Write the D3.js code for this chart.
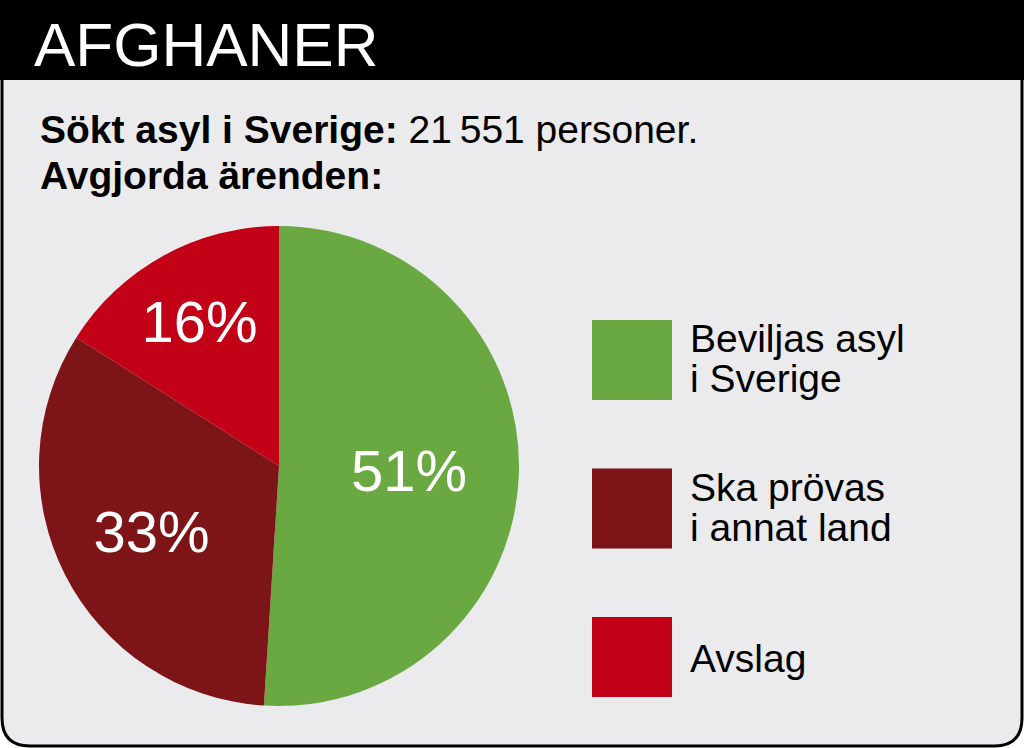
<!DOCTYPE html>
<html><head><meta charset="utf-8">
<script src="https://cdn.jsdelivr.net/npm/d3@7"></script>
<style>body{margin:0;background:#fff}svg{display:block}text{font-family:"Liberation Sans",Arial,sans-serif}</style>
</head><body>
<script>
// data
var categories = ["Beviljas asyl\ni Sverige", "Ska prövas\ni annat land", "Avslag"];
var values = [51, 33, 16];
var colors = ["#6aa842", "#7d1418", "#c20016"];

var W = 1024, H = 748;
var svg = d3.select("body").append("svg").attr("width", W).attr("height", H);

// panel with rounded bottom
svg.append("path")
  .attr("d", "M2,2 H1022 V718 Q1022,746 994,746 H30 Q2,746 2,718 Z")
  .attr("fill", "#ebebed").attr("stroke", "#000").attr("stroke-width", 3);
svg.append("rect").attr("x", 0).attr("y", 0).attr("width", W).attr("height", 80).attr("fill", "#000");
svg.append("text").attr("x", 34).attr("y", 66).attr("fill", "#fff")
  .attr("font-size", 62).text("AFGHANER");

var sub = svg.append("text").attr("x", 40).attr("y", 143).attr("font-size", 39).attr("fill", "#000");
sub.append("tspan").attr("font-weight", "bold").text("Sökt asyl i Sverige: ");
sub.append("tspan").text("21\u2009551 personer.");
svg.append("text").attr("x", 40).attr("y", 189).attr("font-size", 39).attr("font-weight", "bold").text("Avgjorda ärenden:");

// pie
var cx = 279, cy = 466, r = 240;
var pie = d3.pie().sort(null).value(function(d) { return d; });
var arcs = pie(values);
var arc = d3.arc().innerRadius(0).outerRadius(r);
var g = svg.append("g").attr("transform", "translate(" + cx + "," + cy + ")");
g.selectAll("path").data(arcs).enter().append("path")
  .attr("d", arc).attr("fill", function(d, i) { return colors[i]; });
var labelR = [130, 143, 165];
g.selectAll("text.lab").data(arcs).enter().append("text")
  .attr("class", "lab")
  .attr("transform", function(d, i) {
    var a = (d.startAngle + d.endAngle) / 2;
    return "translate(" + (Math.sin(a) * labelR[i]) + "," + (-Math.cos(a) * labelR[i]) + ")";
  })
  .attr("text-anchor", "middle").attr("dy", "0.36em")
  .attr("fill", "#fff").attr("font-size", 58)
  .text(function(d) { return d.data + "%"; });

// legend
var legY = d3.scalePoint().domain(d3.range(categories.length)).range([320, 617]);
var leg = svg.selectAll("g.leg").data(categories).enter().append("g")
  .attr("transform", function(d, i) { return "translate(592," + legY(i) + ")"; });
leg.append("rect").attr("width", 80).attr("height", 80).attr("fill", function(d, i) { return colors[i]; });
leg.each(function(d) {
  var lines = d.split("\n");
  var t = d3.select(this).append("text").attr("x", 98).attr("font-size", 39);
  var y0 = lines.length == 1 ? 55 : 32;
  lines.forEach(function(l, j) {
    t.append("tspan").attr("x", 98).attr("y", y0 + j * 40).text(l);
  });
});
</script>
</body></html>
